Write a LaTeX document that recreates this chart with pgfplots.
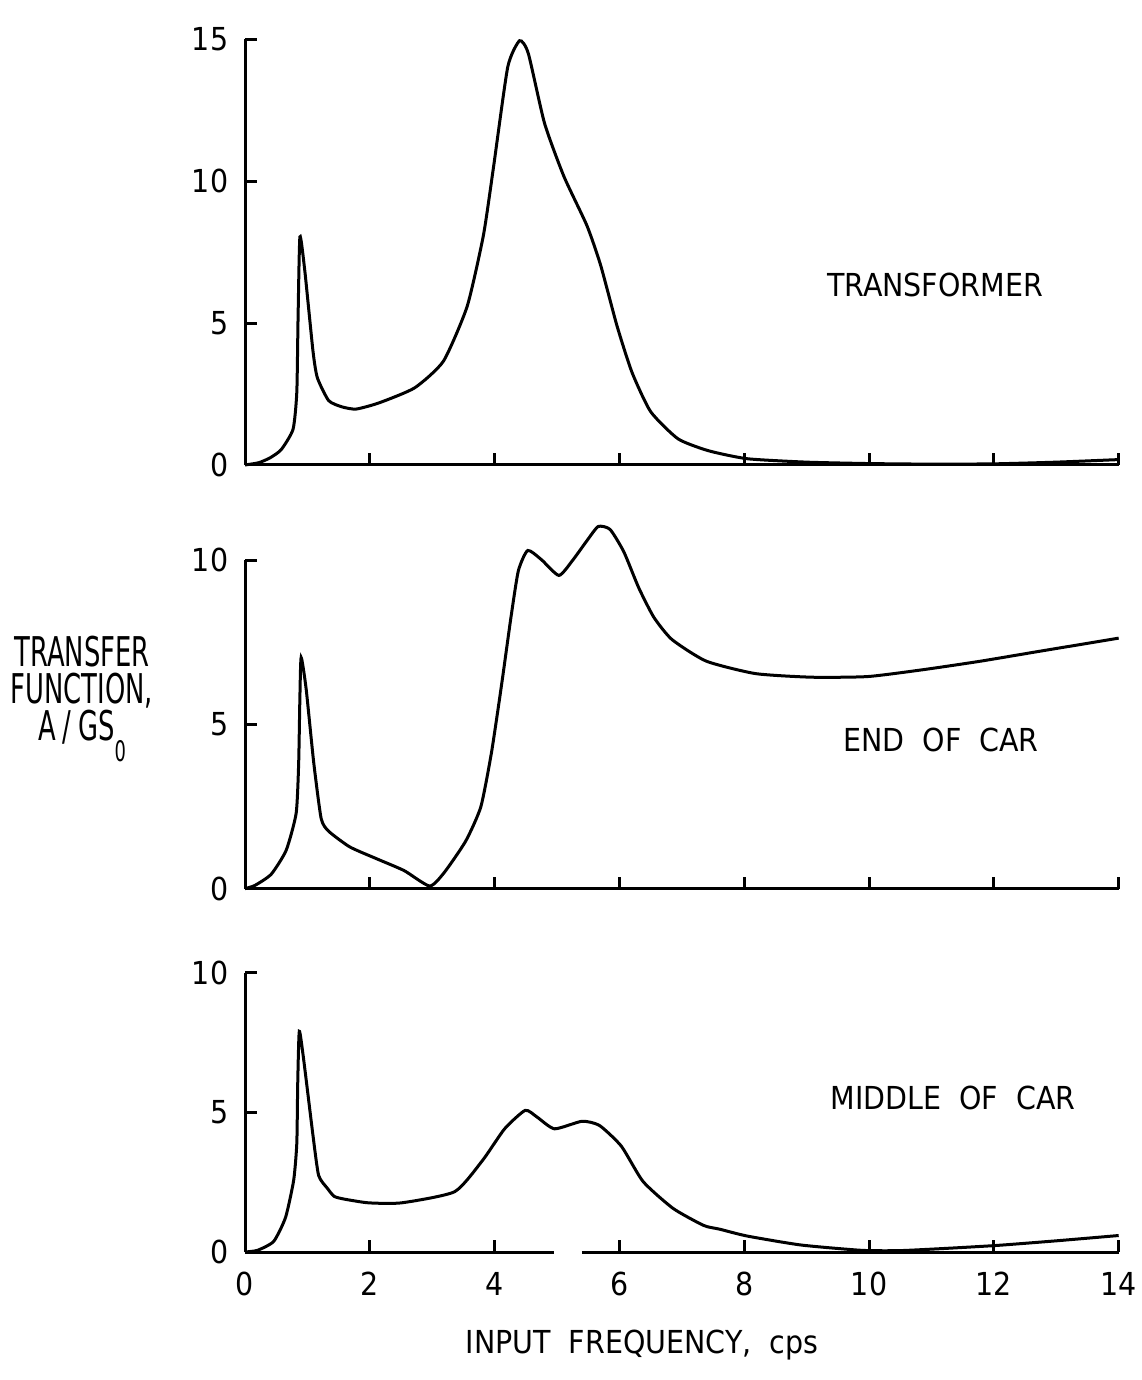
\documentclass[border=0pt]{standalone}
\usepackage{fontspec}
\setmainfont{DejaVu Sans Condensed}
\newfontfamily\narrowfont[FakeStretch=0.7]{DejaVu Sans Condensed}
\usepackage{graphicx}
\usepackage{pgfplots}
\pgfplotsset{compat=1.18}

% common look of the three stacked panels (shared x scale 0..14 cps)
\pgfplotsset{
  panel/.style={
    scale only axis,
    anchor=south west,
    width=262.1pt,
    xmin=0, xmax=14,
    ymin=0,
    axis lines*=left,
    axis line style={-, line width=0.9pt},
    tick align=inside,
    major tick length=3.6pt,
    tick style={line width=0.9pt, black},
    xtick={0,2,...,14},
    ticklabel style={font=\fontsize{9.5}{10}\selectfont},
    xticklabel style={yshift=-2.5pt},
    yticklabel style={xshift=-1.5pt},
    /pgf/number format/assume math mode=true,
    clip=false,
  },
  curve/.style={black, line width=0.9pt, smooth, tension=0.35, mark=none},
}

\begin{document}
\begin{tikzpicture}
\path[use as bounding box] (0,0) rectangle (342.3pt,414pt);

% TRANSFORMER
\begin{axis}[panel, at={(73.5pt,274.5pt)}, height=127.7pt,
  ymax=15, ytick={0,5,10,15}, xticklabels={}]
\addplot[curve] coordinates {
(0,0) (0.22,0.08) (0.40,0.25) (0.58,0.54) (0.77,1.26) (0.83,2.56) (0.85,5.15)
(0.88,8.04) (0.96,6.81) (1.09,4.00) (1.16,3.07) (1.34,2.27) (1.55,2.05)
(1.78,1.97) (2.15,2.19) (2.72,2.72) (3.18,3.66) (3.56,5.59) (3.82,8.09)
(3.98,10.46) (4.21,14.02) (4.40,14.95) (4.54,14.5) (4.80,12.04) (5.11,10.17)
(5.48,8.43) (5.70,7.03) (5.96,4.91) (6.20,3.27) (6.50,1.88) (6.94,0.92)
(7.43,0.50) (8.05,0.22) (9,0.10) (10,0.05) (11,0.03) (12,0.04) (13,0.10) (14,0.19)
};
\end{axis}

% END OF CAR
\begin{axis}[panel, at={(73.5pt,147.4pt)}, height=98.5pt,
  ymax=10, ytick={0,5,10}, xticklabels={}]
\addplot[curve] coordinates {
(0,0) (0.16,0.10) (0.42,0.44) (0.66,1.17) (0.82,2.30) (0.86,3.83) (0.88,5.87)
(0.90,7.04) (0.98,6.08) (1.10,3.86) (1.22,2.14) (1.34,1.75) (1.68,1.27)
(2.11,0.91) (2.55,0.55) (2.96,0.08) (3.20,0.51) (3.54,1.46) (3.78,2.50)
(3.95,4.15) (4.11,6.19) (4.26,8.24) (4.38,9.68) (4.53,10.30) (4.75,10.02)
(5.03,9.54) (5.25,10.0) (5.48,10.6) (5.66,11.03) (5.85,10.94) (6.07,10.26)
(6.31,9.16) (6.55,8.27) (6.84,7.59) (7.39,6.93) (8.18,6.55) (9.08,6.44)
(9.98,6.46) (10.87,6.67) (11.76,6.92) (12.64,7.20) (14,7.63)
};
\end{axis}

% MIDDLE OF CAR (x axis drawn with a break near 5 cps)
\begin{axis}[panel, at={(73.5pt,38.4pt)}, height=83.8pt,
  ymax=10, ytick={0,5,10}, x axis line style={draw=none}]
\addplot[curve] coordinates {
(0,0) (0.20,0.06) (0.46,0.38) (0.65,1.24) (0.78,2.57) (0.83,3.89) (0.845,6.05)
(0.87,7.90) (0.94,6.89) (1.09,4.16) (1.18,2.74) (1.32,2.28) (1.43,1.99)
(1.60,1.89) (1.98,1.76) (2.51,1.76) (3.36,2.16) (3.81,3.29) (4.16,4.41)
(4.49,5.07) (4.68,4.83) (4.96,4.41) (5.40,4.68) (5.68,4.53) (6.03,3.79)
(6.38,2.52) (6.86,1.56) (7.35,0.95) (7.6,0.82) (8.05,0.57) (8.91,0.25)
(9.88,0.06) (10.5,0.05) (11.32,0.14) (12.08,0.24) (13,0.40) (14,0.59)
};
\draw[line width=0.9pt] (axis cs:0,0) -- (axis cs:4.95,0);
\draw[line width=0.9pt] (axis cs:5.4,0) -- (axis cs:14,0);
\end{axis}

\node[font=\fontsize{9.5}{10}\selectfont] at (280.5pt,328.5pt) {TRANSFORMER};
\node[font=\fontsize{9.5}{10}\selectfont] at (282.3pt,192pt) {END\ \ OF\ \ CAR};
\node[font=\fontsize{9.5}{10}\selectfont] at (285.9pt,84.6pt) {MIDDLE\ \ OF\ \ CAR};
\node[font=\fontsize{9.5}{10}\selectfont] at (192.6pt,10.5pt) {INPUT\ \ FREQUENCY,\ \ cps};
\node[font=\narrowfont\fontsize{12.3}{11.1}\selectfont, align=center] at (24.6pt,204.3pt)
  {TRANSFER\\FUNCTION,\\A\,/\,GS\raisebox{-6.5pt}{\fontsize{8.5}{8.5}\selectfont 0}};
\end{tikzpicture}
\end{document}
